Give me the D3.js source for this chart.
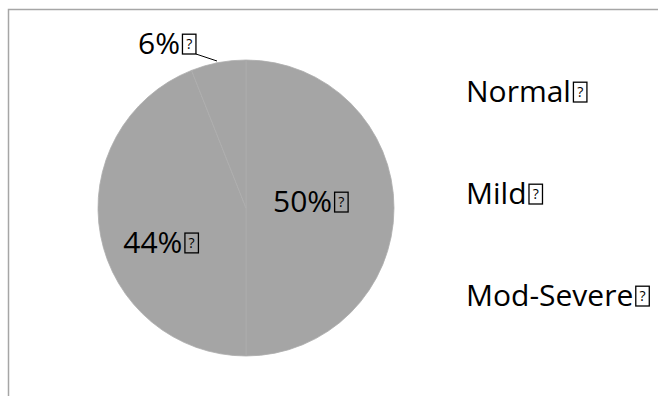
<!DOCTYPE html>
<html>
<head>
<meta charset="utf-8">
<script src="https://cdn.jsdelivr.net/npm/d3@7"></script>
<style>
  html, body { margin: 0; padding: 0; background: #fff; }
  svg { display: block; }
  text { font-family: "Open Sans", "Noto Sans", sans-serif; fill: #000; }
</style>
</head>
<body>
<svg id="chart" width="658" height="396"></svg>
<script>
// Severity categories and their shares (%)
const categories = ["Normal", "Mild", "Mod-Severe"];
const values = [50, 44, 6];
const percentLabels = ["50%", "44%", "6%"];

const width = 658, height = 396;
const svg = d3.select("#chart");

// Chart frame
svg.append("rect")
  .attr("x", 8.5).attr("y", 9.5)
  .attr("width", 700).attr("height", 500)
  .attr("fill", "none")
  .attr("stroke", "#a6a6a6")
  .attr("stroke-width", 1.5);

const defs = svg.append("defs");
defs.append("filter").attr("id", "soft")
  .append("feGaussianBlur").attr("stdDeviation", 0.6);

const cx = 246, cy = 208, radius = 148;
const pie = d3.pie().sort(null).value(d => d.value);
const arc = d3.arc().innerRadius(0).outerRadius(radius);
const data = categories.map((c, i) => ({ name: c, value: values[i], label: percentLabels[i] }));
const arcs = pie(data);

const g = svg.append("g").attr("transform", `translate(${cx},${cy})`);
g.append("g").attr("filter", "url(#soft)")
  .selectAll("path")
  .data(arcs)
  .join("path")
  .attr("d", arc)
  .attr("fill", "#a5a5a5")
  .attr("stroke", "#adadad")
  .attr("stroke-width", 0.8);

// Text followed by a missing-glyph box
function boxedText(parent, x, y, str, size) {
  const t = parent.append("text")
    .attr("x", x).attr("y", y)
    .style("font-size", size + "px")
    .text(str);
  const w = t.node().getComputedTextLength();
  const bx = x + w + 2.5, bw = size * 0.45, bh = size * 0.66;
  parent.append("rect")
    .attr("x", bx).attr("y", y - bh)
    .attr("width", bw).attr("height", bh)
    .attr("fill", "none").attr("stroke", "#000").attr("stroke-width", 1.3);
  parent.append("text")
    .attr("x", bx + bw / 2).attr("y", y - bh * 0.24)
    .attr("text-anchor", "middle")
    .style("font-size", (size * 0.47) + "px")
    .text("?");
  return bx + bw;
}

// Percent labels placed relative to slice centroids
const labelFont = 30;
const labelOffset = { "Normal": [-47, 4], "Mild": [-50, 31] };
arcs.forEach(a => {
  const off = labelOffset[a.data.name];
  if (!off) return;
  const c = arc.centroid(a);
  boxedText(svg, cx + c[0] + off[0], cy + c[1] + off[1], a.data.label, labelFont);
});

// Small slice: outside label with leader line to its rim
const small = arcs[2];
const endX = boxedText(svg, 138, 54, small.data.label, labelFont);
svg.append("line")
  .attr("x1", endX).attr("y1", 54)
  .attr("x2", 217).attr("y2", 61)
  .attr("stroke", "#000").attr("stroke-width", 1);

// Legend (text only)
const legend = svg.append("g");
categories.forEach((c, i) => {
  boxedText(legend, 466, 102 + i * 102, c, labelFont);
});
</script>
</body>
</html>
